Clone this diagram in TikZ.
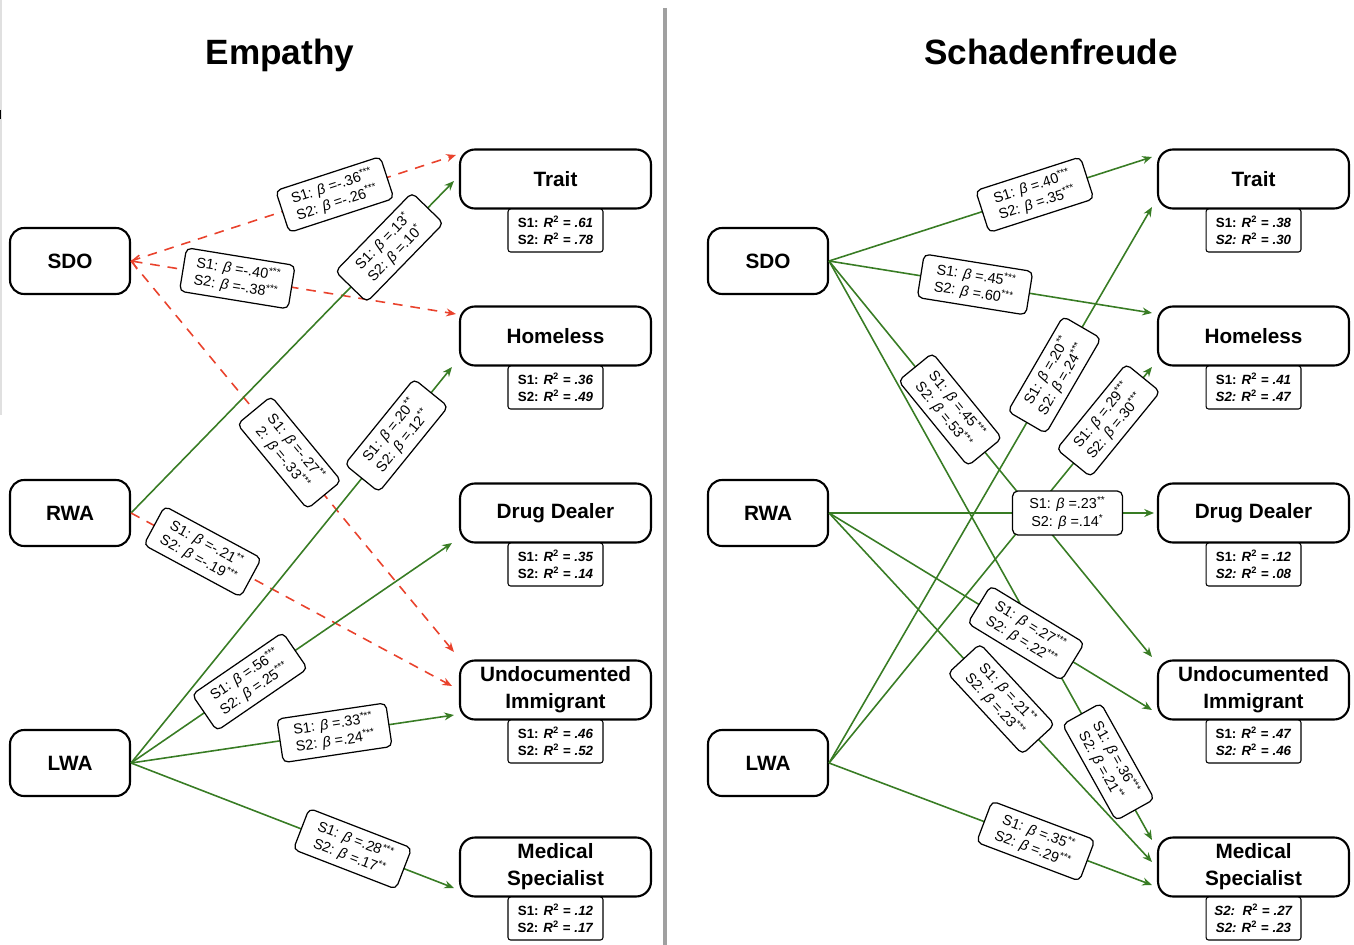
\documentclass[tikz,border=0pt]{standalone}
\usepackage{fontspec}
\setmainfont{Liberation Sans}
\usetikzlibrary{arrows.meta,calc,positioning}

\definecolor{negred}{RGB}{233,66,44}
\definecolor{posgreen}{RGB}{56,124,36}
\definecolor{divgray}{RGB}{160,160,160}

\newcommand{\st}[1]{\textsuperscript{#1}}
\newcommand{\bet}[1]{\textit{β} =#1}
\newcommand{\coef}[2]{S1: \bet{#1}\\S2: \bet{#2}}
\newcommand{\rsqL}[2]{S1: \textit{R}\st{2} = \textit{#1}\\S2: \textit{R}\st{2} = \textit{#2}}
\newcommand{\rsqR}[2]{S1: \textit{R}\st{2} = \textit{#1}\\\textit{S2:} \textit{R}\st{2} = \textit{#2}}

\tikzset{
  pred/.style={draw, line width=1.2pt, rounded corners=8pt,
    minimum width=2.4cm, minimum height=1.32cm,
    font=\fontsize{11.8}{14}\selectfont\bfseries},
  outc/.style={draw, fill=white, line width=1.2pt, rounded corners=8.5pt,
    minimum width=3.82cm, minimum height=1.18cm, align=center,
    font=\fontsize{11.8}{15.3}\selectfont\bfseries},
  rsq/.style={draw, fill=white, line width=0.6pt, rounded corners=1.5pt,
    minimum width=1.9cm, minimum height=0.86cm, inner sep=1pt, align=center,
    font=\fontsize{7.6}{9.8}\selectfont\bfseries},
  coef/.style={draw, fill=white, line width=0.7pt, rounded corners=3pt,
    sloped, align=center, minimum width=2.2cm, minimum height=0.88cm,
    inner sep=1pt, font=\fontsize{8.2}{9.8}\selectfont},
  negpath/.style={negred, line width=0.9pt, dash pattern=on 5.5pt off 4.5pt,
    -{Stealth[length=5.5pt,width=4.5pt]}},
  pospath/.style={posgreen, line width=0.9pt,
    -{Stealth[length=5.5pt,width=4.5pt]}},
  ttl/.style={font=\fontsize{20}{24}\selectfont\bfseries, anchor=base}
}

\begin{document}
\begin{tikzpicture}[x=0.02cm, y=-0.02cm]
  \useasboundingbox (0,0) rectangle (1354,945);

  % titles and divider
  \node[ttl] (ttlL) at (280,65) {Empathy};
  \node[ttl] (ttlR) at (1051,65) {Schadenfreude};
  \draw[divgray, line width=2.2pt] (665,8) -- (665,945);
  \draw[black!12, line width=0.6pt] (1,0) -- (1,415);
  \draw[line width=1pt] (0.5,110) -- (0.5,119);

  % ---- Empathy
  \node[pred] (sdoL) at (70,261) {SDO};
  \node[pred] (rwaL) at (70,513) {RWA};
  \node[pred] (lwaL) at (70,763) {LWA};

  \node[outc] (traitL) at (555.5,179) {Trait};
  \node[outc] (homeL) at (555.5,336) {Homeless};
  \node[outc] (drugL) at (555.5,513) {Drug Dealer};
  \node[outc] (undocL) at (555.5,690) {Undocumented\\Immigrant};
  \node[outc] (medL) at (555.5,867) {Medical\\Specialist};

  \node[rsq, below=-0.6pt of traitL] (traitLr) {\rsqL{.61}{.78}};
  \node[rsq, below=-0.6pt of homeL] (homeLr) {\rsqL{.36}{.49}};
  \node[rsq, below=-0.6pt of drugL] (drugLr) {\rsqL{.35}{.14}};
  \node[rsq, below=-0.6pt of undocL] (undocLr) {\rsqL{.46}{.52}};
  \node[rsq, below=-0.6pt of medL] (medLr) {\rsqL{.12}{.17}};

  \coordinate (eL1) at ($(traitL.west)+(-3,-24)$);
  \coordinate (eL2) at ($(homeL.west)+(-3,-22)$);
  \coordinate (eL3) at ($(undocL.west)+(-5,-38)$);
  \coordinate (eL4) at ($(traitL.west)+(-5,2)$);
  \coordinate (eL5) at ($(undocL.west)+(-7,-4)$);
  \coordinate (eL6) at ($(homeL.west)+(-7,31)$);
  \coordinate (eL7) at ($(drugL.west)+(-7,30)$);
  \coordinate (eL8) at ($(undocL.west)+(-5,25)$);
  \coordinate (eL9) at ($(medL.west)+(-5,21)$);

  \draw[negpath] (sdoL.east) -- (eL1);
  \draw[negpath, {Straight Barb[length=3.5pt,width=8pt]}-{Stealth[length=5.5pt,width=4.5pt]}] (sdoL.east) -- (eL2);
  \draw[negpath] (sdoL.east) -- (eL3);
  \draw[pospath] (rwaL.east) -- (eL4);
  \draw[negpath] (rwaL.east) -- (eL5);
  \draw[pospath] (lwaL.east) -- (eL6);
  \draw[pospath] (lwaL.east) -- (eL7);
  \draw[pospath] (lwaL.east) -- (eL8);
  \draw[pospath] (lwaL.east) -- (eL9);

  \path (sdoL.east) -- (eL1) node[coef, pos=.627] {\coef{-.36\st{***}}{-.26\st{***}}};
  \path (sdoL.east) -- (eL2) node[coef, pos=.327] {\coef{-.40\st{***}}{-.38\st{***}}};
  \path (sdoL.east) -- (eL3) node[coef, pos=.49] {S1: \bet{-.27\st{**}}\\2: \bet{-.33\st{***}}};
  \path (rwaL.east) -- (eL4) node[coef, pos=.80] {\coef{.13\st{*}}{.10\st{*}}};
  \path (rwaL.east) -- (eL5) node[coef, pos=.223] {\coef{-.21\st{**}}{-.19\st{***}}};
  \path (lwaL.east) -- (eL6) node[coef, pos=.827] {\coef{.20\st{**}}{.12\st{**}}};
  \path (lwaL.east) -- (eL7) node[coef, pos=.37] {\coef{.56\st{***}}{.25\st{***}}};
  \path (lwaL.east) -- (eL8) node[coef, pos=.63] {\coef{.33\st{***}}{.24\st{***}}};
  \path (lwaL.east) -- (eL9) node[coef, pos=.686] {\coef{.28\st{***}}{.17\st{**}}};

  % ---- Schadenfreude
  \node[pred] (sdoR) at (768,261) {SDO};
  \node[pred] (rwaR) at (768,513) {RWA};
  \node[pred] (lwaR) at (768,763) {LWA};

  \node[outc] (traitR) at (1253.5,179) {Trait};
  \node[outc] (homeR) at (1253.5,336) {Homeless};
  \node[outc] (drugR) at (1253.5,513) {Drug Dealer};
  \node[outc] (undocR) at (1253.5,690) {Undocumented\\Immigrant};
  \node[outc] (medR) at (1253.5,867) {Medical\\Specialist};

  \node[rsq, below=-0.6pt of traitR] (traitRr) {\rsqR{.38}{.30}};
  \node[rsq, below=-0.6pt of homeR] (homeRr) {\rsqR{.41}{.47}};
  \node[rsq, below=-0.6pt of drugR] (drugRr) {\rsqR{.12}{.08}};
  \node[rsq, below=-0.6pt of undocR] (undocRr) {\rsqR{.47}{.46}};
  \node[rsq, below=-0.6pt of medR] (medRr) {\textit{S2:}\ \ \textit{R}\st{2} = \textit{.27}\\\textit{S2:} \textit{R}\st{2} = \textit{.23}};

  \coordinate (eR1) at ($(traitR.west)+(-5,-22)$);
  \coordinate (eR2) at ($(homeR.west)+(-5,-23)$);
  \coordinate (eR3) at ($(undocR.west)+(-5,-33)$);
  \coordinate (eR4) at ($(medR.west)+(-5,-27)$);
  \coordinate (eR5) at ($(drugR.west)+(-3,0)$);
  \coordinate (eR6) at ($(undocR.west)+(-5,20)$);
  \coordinate (eR7) at ($(medR.west)+(-5,-5)$);
  \coordinate (eR8) at ($(traitR.west)+(-5,28)$);
  \coordinate (eR9) at ($(homeR.west)+(-5,31)$);
  \coordinate (eR10) at ($(medR.west)+(-5,18)$);

  \draw[pospath] (sdoR.east) -- (eR1);
  \draw[pospath] (sdoR.east) -- (eR2);
  \draw[pospath] (sdoR.east) -- (eR3);
  \draw[pospath] (sdoR.east) -- (eR4);
  \draw[pospath] (rwaR.east) -- (eR5);
  \draw[pospath] (rwaR.east) -- (eR6);
  \draw[pospath] (rwaR.east) -- (eR7);
  \draw[pospath] (lwaR.east) -- (eR8);
  \draw[pospath] (lwaR.east) -- (eR9);
  \draw[pospath] (lwaR.east) -- (eR10);

  \path (sdoR.east) -- (eR1) node[coef, pos=.637] {\coef{.40\st{***}}{.35\st{***}}};
  \path (sdoR.east) -- (eR2) node[coef, pos=.452] {\coef{.45\st{***}}{.60\st{***}}};
  \path (sdoR.east) -- (eR3) node[coef, pos=.375] {\coef{.45\st{***}}{.53\st{***}}};
  \path (sdoR.east) -- (eR4) node[coef, pos=.865] {\coef{.36\st{***}}{.21\st{**}}};
  \path (rwaR.east) -- (eR5) node[coef, pos=.734] {\coef{.23\st{**}}{.14\st{*}}};
  \path (rwaR.east) -- (eR6) node[coef, pos=.61] {\coef{.27\st{***}}{.22\st{***}}};
  \path (rwaR.east) -- (eR7) node[coef, pos=.533] {\coef{.21\st{**}}{.23\st{***}}};
  \path (lwaR.east) -- (eR8) node[coef, pos=.698] {\coef{.20\st{**}}{.24\st{***}}};
  \path (lwaR.east) -- (eR9) node[coef, pos=.865] {\coef{.29\st{***}}{.30\st{***}}};
  \path (lwaR.east) -- (eR10) node[coef, pos=.64] {\coef{.35\st{**}}{.29\st{***}}};
\end{tikzpicture}
\end{document}
